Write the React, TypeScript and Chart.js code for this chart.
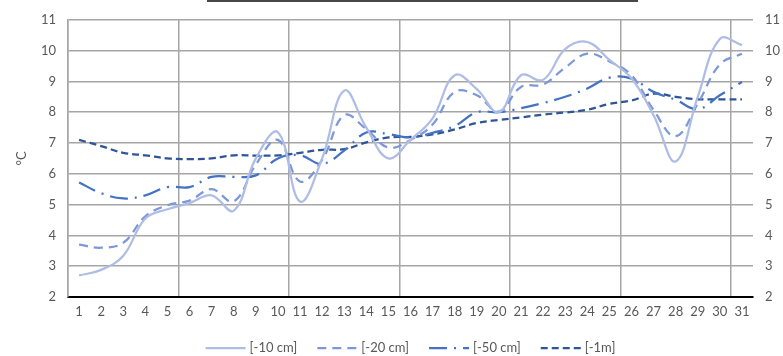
import React, { useEffect, useRef } from "react";
import { Chart, registerables } from "chart.js";

Chart.register(...registerables);

const days = [
  "1", "2", "3", "4", "5", "6", "7", "8", "9", "10", "11", "12", "13", "14", "15", "16",
  "17", "18", "19", "20", "21", "22", "23", "24", "25", "26", "27", "28", "29", "30", "31",
];

const seriesNames = ["[-10 cm]", "[-20 cm]", "[-50 cm]", "[-1m]"];

const depth10 = [2.7, 2.88, 3.34, 4.55, 4.85, 5.05, 5.3, 4.8, 6.5, 7.35, 5.1, 6.5, 8.7, 7.5, 6.5, 7.1,
  7.8, 9.2, 8.75, 8.0, 9.2, 9.05, 10.05, 10.28, 9.7, 9.1, 7.9, 6.4, 8.5, 10.38, 10.18];
const depth20 = [3.7, 3.6, 3.76, 4.62, 4.98, 5.13, 5.5, 5.1, 6.3, 7.1, 5.75, 6.45, 7.9, 7.45, 6.85, 7.1,
  7.6, 8.66, 8.55, 8.02, 8.82, 8.9, 9.45, 9.9, 9.65, 9.2, 8.07, 7.22, 8.28, 9.55, 9.9];
const depth50 = [5.72, 5.37, 5.2, 5.3, 5.57, 5.57, 5.9, 5.9, 5.95, 6.5, 6.6, 6.32, 6.75, 7.34, 7.29, 7.18,
  7.33, 7.55, 8.0, 8.0, 8.13, 8.3, 8.5, 8.77, 9.12, 9.09, 8.66, 8.4, 8.1, 8.55, 8.98];
const depth100 = [7.1, 6.9, 6.68, 6.6, 6.5, 6.48, 6.5, 6.6, 6.59, 6.6, 6.68, 6.78, 6.8, 7.02, 7.18, 7.2,
  7.28, 7.44, 7.65, 7.75, 7.83, 7.92, 7.99, 8.08, 8.27, 8.38, 8.6, 8.5, 8.42, 8.42, 8.42];

const yMin = 2;
const yMax = 11;
const yAxisTitle = "°C";

const FONT = "Lato";
const TEXT_COLOR = "#595959";

const legendPlugin = {
  id: "customLegend",
  afterDraw(chart: any) {
    const ctx = chart.ctx;
    ctx.save();
    ctx.font = `13px ${FONT}`;
    const sample = 40;
    const gapText = 4;
    const gapItem = 20;
    const items = chart.data.datasets.map((ds: any) => ({
      ds,
      w: sample + gapText + ctx.measureText(ds.label).width,
    }));
    const total = items.reduce((a: number, b: any) => a + b.w, 0) + gapItem * (items.length - 1);
    let x = (chart.chartArea.left + chart.chartArea.right) / 2 - total / 2;
    const y = 348;
    for (const it of items) {
      ctx.beginPath();
      ctx.setLineDash(it.ds.borderDash || []);
      ctx.strokeStyle = it.ds.borderColor;
      ctx.lineWidth = it.ds.borderWidth;
      ctx.moveTo(x, y);
      ctx.lineTo(x + sample, y);
      ctx.stroke();
      ctx.setLineDash([]);
      ctx.fillStyle = TEXT_COLOR;
      ctx.textBaseline = "middle";
      ctx.textAlign = "left";
      ctx.fillText(it.ds.label, x + sample + gapText, y);
      x += it.w + gapItem;
    }
    // bottom edge of the (cropped) title box
    ctx.fillStyle = "#474747";
    ctx.fillRect(207, 0, 431, 2);
    ctx.restore();
  },
};

export default function App() {
  const ref = useRef<HTMLCanvasElement | null>(null);

  useEffect(() => {
    if (!ref.current) return;
    const mk = (label: string, data: number[], color: string, dash: number[]) => ({
      label,
      data,
      borderColor: color,
      backgroundColor: color,
      borderWidth: 2.25,
      borderDash: dash,
      pointRadius: 0,
      pointHoverRadius: 0,
      tension: 0.4,
      fill: false,
      yAxisID: "y",
    });
    const chart = new Chart(ref.current, {
      type: "line",
      data: {
        labels: days,
        datasets: [
          mk(seriesNames[0], depth10, "#afbde5", []),
          mk(seriesNames[1], depth20, "#7d98d8", [9, 6]),
          mk(seriesNames[2], depth50, "#4472c4", [18, 7, 2, 7]),
          mk(seriesNames[3], depth100, "#2f5597", [7, 4]),
        ],
      },
      options: {
        responsive: false,
        animation: false,
        layout: { padding: { top: 15, left: 0, right: 0, bottom: 0 } },
        plugins: {
          legend: { display: false },
          tooltip: { enabled: false },
        },
        scales: {
          x: {
            type: "category",
            offset: true,
            grid: {
              offset: true,
              drawTicks: false,
              color: (c: any) => (c.index % 5 === 0 && c.index < 31 ? "#a6a6a6" : "rgba(0,0,0,0)"),
              lineWidth: 1.5,
            },
            border: { color: "#000000", width: 2 },
            ticks: {
              autoSkip: false,
              maxRotation: 0,
              minRotation: 0,
              padding: 7,
              color: TEXT_COLOR,
              font: { family: FONT, size: 13 },
            },
            afterFit: (s: any) => {
              s.height = 59;
            },
          },
          y: {
            position: "left",
            min: yMin,
            max: yMax,
            ticks: {
              stepSize: 0.5,
              padding: 12,
              color: TEXT_COLOR,
              font: { family: FONT, size: 13 },
              callback: (v: any) => (Number.isInteger(Number(v)) ? String(v) : ""),
            },
            grid: {
              drawTicks: false,
              color: (c: any) => (Number.isInteger(c.tick?.value) ? "#a6a6a6" : "#e3e3e3"),
              lineWidth: (c: any) => (Number.isInteger(c.tick?.value) ? 1.5 : 1),
            },
            border: { color: "#a6a6a6", width: 1.5 },
            title: {
              display: true,
              text: yAxisTitle,
              color: TEXT_COLOR,
              font: { family: FONT, size: 13 },
              padding: { top: 14, bottom: 0 },
            },
            afterFit: (s: any) => {
              s.width = 68;
            },
          },
          y2: {
            position: "right",
            min: yMin,
            max: yMax,
            ticks: {
              stepSize: 1,
              padding: 12,
              color: TEXT_COLOR,
              font: { family: FONT, size: 13 },
            },
            grid: { display: false, drawTicks: false },
            border: { display: false },
            afterFit: (s: any) => {
              s.width = 30;
            },
          },
        },
      },
      plugins: [legendPlugin],
    });
    return () => chart.destroy();
  }, []);

  return (
    <div style={{ position: "fixed", left: 0, top: 0, width: 783, height: 356, background: "#fff" }}>
      <canvas ref={ref} width={783} height={356} style={{ display: "block" }} />
    </div>
  );
}
